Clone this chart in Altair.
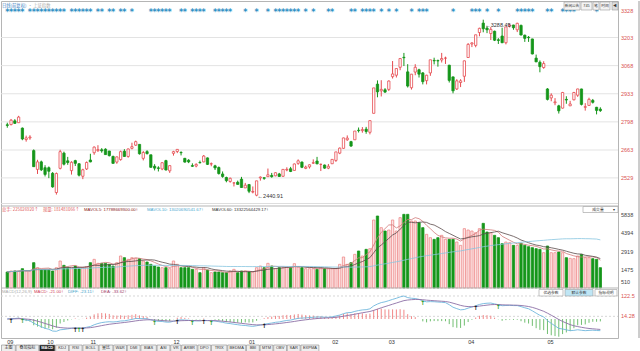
import altair as alt
import pandas as pd
import numpy as np

# ---------------- data ----------------
opens = [2784,2785,2803,2794,2768,2713,2721,2660,2570,2606,2578,2578,2551,2459,2575,2648,2611,2564,2612,2597,2537,2572,
         2615,2650,2660,2664,2667,2658,2632,2605,2617,2657,2632,2671,2686,2690,2623,2655,2640,2585,2577,2572,2612,2563,
         2647,2656,2651,2623,2614,2588,2586,2603,2606,2625,2596,2587,2579,2548,2531,2512,2505,2508,2523,2481,
         2497,2461,2446,2529,2530,2535,2541,2539,2548,2537,2567,2573,2565,2599,2605,2575,2582,2600,2610,2594,2591,2576,
         2597,2613,2648,2671,2712,2703,2712,2758,2756,2763,2748,2839,2979,2947,2952,
         2954,3015,3022,3060,3108,3038,2962,3037,3048,3033,2996,3033,3093,3092,3095,3104,3070,3014,2956,2987,3017,
         3107,3172,3165,3227,3272,3248,3222,3233,3192,3210,3178,3258,3263,3240,3261,3214,3204,3196,3104,3084,3059,
         2956,2913,2890,2875,2864,2906,2875,2904,2926,2956,2868,2877,2901,2868,2859]
highs = [2794,2812,2811,2827,2771,2732,2734,2666,2616,2612,2590,2584,2557,2555,2664,2655,2630,2609,2616,2600,2573,2608,
         2645,2680,2686,2672,2671,2659,2636,2632,2660,2667,2670,2698,2708,2690,2658,2662,2640,2595,2585,2604,2616,2590,
         2659,2667,2657,2625,2619,2599,2599,2612,2639,2627,2603,2592,2584,2560,2535,2531,2507,2516,2534,2505,
         2500,2488,2515,2536,2531,2574,2553,2556,2553,2571,2580,2582,2598,2618,2608,2588,2594,2618,2630,2598,2593,2596,
         2618,2653,2675,2722,2733,2707,2754,2771,2773,2774,2804,2961,2997,2998,2960,
         2997,3090,3055,3103,3129,3075,3028,3075,3053,3037,3024,3096,3106,3097,3129,3111,3072,3015,3003,3003,3092,
         3176,3180,3216,3250,3288.45,3256,3253,3236,3200,3250,3254,3270,3264,3274,3265,3217,3210,3197,3121,3093,3089,
         2960,2935,2912,2880,2942,2921,2899,2942,2957,2957,2888,2914,2908,2870,2868]
lows = [2770,2781,2788,2794,2710,2703,2712,2582,2548,2562,2536,2528,2482,2449,2570,2589,2592,2545,2586,2536,2523,2567,
        2604,2640,2654,2650,2641,2632,2597,2597,2612,2630,2626,2666,2683,2641,2613,2641,2578,2565,2560,2566,2565,2553,
        2636,2648,2637,2603,2600,2582,2580,2598,2604,2591,2585,2567,2545,2530,2508,2506,2488,2497,2482,2481,
        2456,2455,2440.91,2516,2520,2535,2530,2537,2534,2534,2561,2557,2565,2592,2576,2571,2574,2596,2594,2562,2573,2571,
        2597,2606,2643,2669,2707,2678,2712,2747,2746,2741,2738,2839,2916,2920,2937,
        2946,3006,3011,3046,3066,2963,2953,3022,3011,2978,2978,3019,3074,3063,3083,3076,2987,2935,2951,2965,2990,
        3106,3157,3156,3209,3228,3224,3191,3186,3172,3176,3170,3251,3240,3229,3213,3182,3182,3122,3085,3036,3053,
        2901,2897,2878,2838,2862,2885,2874,2901,2918,2877,2852,2876,2886,2834,2846]
closes = [2781,2806,2791,2821,2716,2721,2725,2583,2606,2568,2546,2561,2486,2550,2655,2595,2603,2604,2599,2542,2568,2603,
          2606,2677,2665,2659,2641,2636,2599,2630,2655,2632,2668,2679,2703,2645,2651,2646,2580,2576,2575,2602,2567,2588,
          2655,2666,2650,2605,2606,2585,2594,2602,2634,2594,2597,2577,2550,2536,2516,2527,2505,2498,2483,2494,
          2465,2464,2515,2533,2527,2544,2535,2554,2536,2570,2570,2560,2596,2611,2580,2581,2592,2602,2597,2594,2576,2585,
          2618,2654,2672,2721,2720,2682,2754,2756,2761,2752,2804,2961,2942,2954,2941,
          2994,3028,3054,3102,3106,2970,3027,3060,3027,2991,3022,3096,3091,3091,3102,3104,2997,2947,2995,2995,3091,
          3170,3177,3216,3247,3245,3240,3242,3190,3189,3178,3254,3263,3250,3271,3215,3199,3202,3124,3086,3063,3078,
          2906,2926,2894,2851,2939,2903,2884,2939,2956,2882,2871,2906,2892,2853,2852]
volumes = [1280,1359,1359,1359,1546,1359,1359,2026,1626,1439,1439,1439,1359,1626,2160,1813,1626,1680,1760,1546,1626,1706,
           2026,2293,1973,1973,1973,1893,1760,2026,2560,2426,2293,2426,2373,2346,2160,2080,1893,1760,1680,1626,1626,1546,
           2160,1893,1626,1626,1626,1493,1493,1226,1626,1439,1226,1280,1280,1226,1226,1359,1493,1226,1359,1359,
           1280,1280,1626,1760,1626,1973,1760,1546,1626,1626,1680,1626,1946,1680,1626,1546,1546,1546,1493,1626,1546,1546,
           1546,1546,1893,2480,1893,2026,2693,2960,2560,3093,3146,5440,5760,4827,4560,
           4640,5440,4560,5627,5893,5893,5360,5360,5227,4827,4293,4026,3893,4026,4213,3893,3893,3893,3680,3413,4747,
           4640,4560,4426,4747,5173,4480,4426,4213,4026,3546,3680,3626,3413,3413,3573,3413,3306,3226,3146,3093,2826,
           3360,2826,2826,2880,2826,2426,2373,2346,2560,2693,2426,2426,2346,2293,1626]
star_idx = [0,1,2,3,4,6,7,8,9,10,11,12,13,14,15,17,18,19,20,21,22,24,25,27,28,30,31,33,38,39,40,41,42,43,46,47,
            49,50,51,52,55,56,57,58,59,63,66,69,71,72,73,74,75,76,77,79,81,85,86,91,92,94,95,96,97,99,101,103,107,
            109,110,111,118,123,124,125,127,130,135,136,137,138,139,143,144,147,148,149,150,156]
month_idx = [0, 10.6, 22, 44, 64, 86, 101, 122, 143]
month_lbl = ["09", "10", "11", "12", "01", "02", "03", "04", "05"]
price_ticks = [2529, 2663, 2798, 2933, 3068, 3203, 3328]
vol_ticks = [510, 1475, 2919, 4394, 5838]
macd_ticks = [14.28, 122.5]
tabs = ["主图", "叠加指标", "MACD", "KDJ", "RSI", "BOLL", "量比", "W&R", "DMI", "BIAS", "ASI", "VR", "ARBR",
        "DPO", "TRIX", "BEDMA", "BBI", "MTM", "OBV", "SAR", "EXPMA"]

# ---------------- derived ----------------
n = len(closes)
df = pd.DataFrame({"i": list(range(n)), "open": opens, "high": highs, "low": lows,
                   "close": closes, "vol": volumes})
df["up"] = df["close"] >= df["open"]
ema12 = df["close"].ewm(span=12, adjust=False).mean()
ema26 = df["close"].ewm(span=26, adjust=False).mean()
df["dif"] = ema12 - ema26
df["dea"] = df["dif"].ewm(span=9, adjust=False).mean()
df["macd"] = 2 * (df["dif"] - df["dea"])
df["mpos"] = df["macd"] >= 0

sg = np.sign(df["macd"].values)
cross_i, cross_t, cross_y = [], [], []
for k in range(1, n):
    if sg[k] != sg[k - 1] and sg[k] != 0:
        cross_i.append(k)
        cross_t.append("gold" if sg[k] > 0 else "dead")
        cross_y.append(float(df["dif"].iloc[k]))
cross_df = pd.DataFrame({"i": cross_i, "t": cross_t, "y": cross_y})

RED = "#e64a4f"
GREEN = "#15961a"
FONT = "Noto Sans CJK SC"
NUMF = "Liberation Sans"
W = 617
H = 337
one = pd.DataFrame({"a": [0]})
xs = alt.Scale(domain=[-0.34, 160.35], nice=False, zero=False)
X = alt.X("i:Q", scale=xs, axis=None)

# panel scales: pixel ranges inside one plot area (price 0-205, volume 205-287, MACD 287-337)
pscale = alt.Scale(domain=[2394.2, 3378.2], range=[205, 0], nice=False, zero=False)
vscale = alt.Scale(domain=[0, 6560], range=[287, 205], nice=False, zero=False)
dmax = float(df["dif"].max())
mscale = alt.Scale(domain=[-dmax * 19.0 / 23.0, dmax * 31.0 / 23.0], range=[337, 287], nice=False, zero=False)


def txt(s, x, y, color, size=4.6, align="left", weight="normal", font=FONT):
    return alt.Chart(one).mark_text(text=s, align=align, baseline="middle", fontSize=size,
                                    color=color, font=font, fontWeight=weight).encode(
        x=alt.value(x), y=alt.value(y))


def box(x1, x2, y1, y2, fill="#f4f4f4", stroke="#9a9a9a"):
    return alt.Chart(one).mark_rect(fill=fill, stroke=stroke, strokeWidth=0.6).encode(
        x=alt.value(x1), x2=alt.value(x2), y=alt.value(y1), y2=alt.value(y2))


def hline(y, x1=0, x2=W, color="#b5b5b5"):
    return alt.Chart(one).mark_rule(color=color, strokeWidth=1).encode(
        x=alt.value(x1), x2=alt.value(x2), y=alt.value(y))


def vline(x, y1, y2, color="#9a9a9a"):
    return alt.Chart(one).mark_rule(color=color, strokeWidth=1).encode(
        x=alt.value(x), y=alt.value(y1), y2=alt.value(y2))


def labels(vals, scale, color):
    d = pd.DataFrame({"v": vals, "lab": [f"{v:g}" for v in vals]})
    return alt.Chart(d).mark_text(align="left", baseline="middle", fontSize=5.5, font=NUMF,
                                  color=color).encode(
        x=alt.value(620), y=alt.Y("v:Q", scale=scale, axis=None), text="lab:N")


def grid(vals, scale, dash=None, color="#e3e3e3"):
    d = pd.DataFrame({"v": vals})
    kw = dict(color=color, strokeWidth=1)
    if dash:
        kw["strokeDash"] = dash
    return alt.Chart(d).mark_rule(**kw).encode(
        x=alt.value(0), x2=alt.value(W), y=alt.Y("v:Q", scale=scale, axis=None))


# ---------------- price panel ----------------
base = alt.Chart(df)
wick = base.mark_rule(strokeWidth=1, clip=True).encode(
    x=X, y=alt.Y("low:Q", scale=pscale, axis=None), y2="high:Q",
    color=alt.condition("datum.up", alt.value(RED), alt.value(GREEN)))
body = base.mark_bar(size=2.3, strokeWidth=0.8, clip=True).encode(
    x=X, y=alt.Y("open:Q", scale=pscale, axis=None), y2="close:Q",
    fill=alt.condition("datum.up", alt.value("white"), alt.value(GREEN)),
    stroke=alt.condition("datum.up", alt.value(RED), alt.value(GREEN)))
stars = alt.Chart(pd.DataFrame({"i": star_idx})).mark_text(
    text="*", fontSize=8, fontWeight="bold", color="#2e8fc4", baseline="middle", font="DejaVu Sans").encode(
    x=X, y=alt.value(12))
imax = int(np.argmax(highs))
imin = int(np.argmin(lows))
ext = pd.DataFrame({"i": [imax, imin], "p": [highs[imax], lows[imin]],
                    "lab": ["\u2190" + f"{highs[imax]:.2f}", "\u2190" + f"{lows[imin]:.2f}"]})
ext_max = alt.Chart(ext.iloc[[0]]).mark_text(align="left", baseline="middle", fontSize=5.5, dx=2, dy=5,
                                             color="#333", font=NUMF).encode(
    x=X, y=alt.Y("p:Q", scale=pscale, axis=None), text="lab:N")
ext_min = alt.Chart(ext.iloc[[1]]).mark_text(align="left", baseline="middle", fontSize=5.5, dx=1, dy=0,
                                             color="#333", font=NUMF).encode(
    x=X, y=alt.Y("p:Q", scale=pscale, axis=None), text="lab:N")

top_btns = [box(563, 579, 1, 9), box(580, 591, 1, 9), box(592, 598, 1, 9), box(599, 609, 1, 9),
            box(611, 617, 1, 9, fill="#dddddd"),
            txt("新闻公告", 571, 5, "#333", 3.6, "center"), txt("745", 585.5, 5, "#333", 3.8, "center", font=NUMF),
            txt("笔", 595, 5, "#333", 3.8, "center"), txt("时间", 604, 5, "#333", 3.8, "center"),
            txt("◀", 614, 5, "#333", 3.8, "center")]

price_layers = [grid(price_ticks[:-1], pscale), wick, body, stars, ext_max, ext_min,
                labels(price_ticks, pscale, "#d9534f"),
                txt("日线(前复权)", 1, 4.5, "#3b82c4", 4.3), txt("· 上证指数", 27, 4.5, "#aaaaaa", 4.3),
                *top_btns]

# ---------------- volume panel ----------------
vbase = alt.Chart(df).transform_window(
    ma5="mean(vol)", frame=[-4, 0], sort=[alt.SortField("i")]).transform_window(
    ma10="mean(vol)", frame=[-9, 0], sort=[alt.SortField("i")]).transform_window(
    ma60="mean(vol)", frame=[-59, 0], sort=[alt.SortField("i")])
vbars = alt.Chart(df).mark_bar(size=2.3, strokeWidth=0.8, clip=True).encode(
    x=X, y=alt.Y("vol:Q", scale=vscale, axis=None), y2=alt.datum(0),
    fill=alt.condition("datum.up", alt.value("#fde4e4"), alt.value(GREEN)),
    stroke=alt.condition("datum.up", alt.value("#ee8a8a"), alt.value(GREEN)))
ma5 = vbase.mark_line(color="#d07878", strokeWidth=0.8, clip=True).encode(
    x=X, y=alt.Y("ma5:Q", scale=vscale, axis=None))
ma10 = vbase.mark_line(color="#5a4a4a", strokeWidth=0.8, clip=True).encode(
    x=X, y=alt.Y("ma10:Q", scale=vscale, axis=None))
ma60 = vbase.mark_line(color="#86c5e0", strokeWidth=0.8, clip=True).encode(
    x=X, y=alt.Y("ma60:Q", scale=vscale, axis=None))
vol_layers = [vbars, ma5, ma10, ma60, labels(vol_ticks, vscale, "#444444"),
              txt("总手: 225026920↑", 1, 209.3, "#e05a5a", 4.3),
              txt("现量: 181481066↑", 42, 209.3, "#e05a5a", 4.3),
              txt("MAVOL5: 17788669300.00↑", 83, 209.3, "#8b1a1a", 4.3, font=NUMF),
              txt("MAVOL10: 13020690541.67↑", 146, 209.3, "#4aa8d0", 4.3, font=NUMF),
              txt("MAVOL60: 13322564429.17↑", 211, 209.3, "#333333", 4.3, font=NUMF),
              box(582, 617, 205.5, 211.5, fill="white"),
              txt("成交量", 597, 208.5, "#333", 3.8, "center"), txt("▾", 613, 208.5, "#333", 4, "center")]

# ---------------- MACD panel ----------------
hist = alt.Chart(df).mark_rule(strokeWidth=0.9, clip=True).encode(
    x=X, y=alt.Y("macd:Q", scale=mscale, axis=None), y2=alt.datum(0),
    color=alt.condition("datum.mpos", alt.value("#ef7c7c"), alt.value("#62b862")))
dif_line = alt.Chart(df).mark_line(color="#6fb7dc", strokeWidth=0.9, clip=True).encode(
    x=X, y=alt.Y("dif:Q", scale=mscale, axis=None))
dea_line = alt.Chart(df).mark_line(color="#8c6fa6", strokeWidth=0.9, clip=True).encode(
    x=X, y=alt.Y("dea:Q", scale=mscale, axis=None))
arrows = alt.Chart(cross_df).mark_text(text="↑", fontSize=6, fontWeight="bold", baseline="middle",
                                       font="DejaVu Sans", dy=2).encode(
    x=X, y=alt.Y("y:Q", scale=mscale, axis=None),
    color=alt.condition("datum.t == 'gold'", alt.value("#111111"), alt.value("#1f9a1f")))
months = alt.Chart(pd.DataFrame({"i": month_idx, "lab": month_lbl})).mark_text(
    align="left", baseline="middle", fontSize=5.5, font=NUMF, color="#333").encode(
    x=X, y=alt.value(340.5), text="lab:N")

tab_layers = []
xpos = 0.5
for t in tabs:
    w = sum(4.4 if ord(c) > 255 else 2.6 for c in t) + 5
    sel = (t == "MACD")
    tab_layers.append(box(xpos, xpos + w, 344, 350.5, fill="#222222" if sel else "#eeeeee",
                          stroke="#888888"))
    tab_layers.append(txt(t, xpos + w / 2, 347.3, "white" if sel else "#333333", 4.0, "center",
                          "bold" if sel else "normal", font=FONT if ord(t[0]) > 255 else NUMF))
    xpos += w + 0.8

macd_layers = [grid(macd_ticks, mscale, dash=[2, 2], color="#d6d6d6"), hist, dif_line, dea_line, arrows,
               labels(macd_ticks, mscale, "#d9534f"), months,
               txt("MACD(12,26,9)", 1, 290.5, "#aaaaaa", 4.3, font=NUMF),
               txt("MACD: -21.00↑", 33, 290.5, "#d0405a", 4.3, font=NUMF),
               txt("DIFF: -23.11↑", 67, 290.5, "#3aa0c8", 4.3, font=NUMF),
               txt("DEA: -33.62↑", 100, 290.5, "#a0406a", 4.3, font=NUMF),
               box(538, 562, 288.5, 295, fill="white"), box(564, 592, 288.5, 295, fill="#bfe6f5"),
               box(594, 616, 288.5, 295, fill="white"),
               txt("优选参数", 550, 291.8, "#333", 3.8, "center"),
               txt("默认参数", 578, 291.8, "#333", 3.8, "center"),
               txt("指标说明", 605, 291.8, "#333", 3.8, "center"),
               *tab_layers]

frame_layers = [hline(205), hline(202.5, color="#dddddd"), hline(287), vline(638, 0, 337)]

chart = alt.layer(*price_layers, *vol_layers, *macd_layers, *frame_layers).resolve_scale(
    y="independent").properties(
    width=W, height=H, padding={"left": 0, "top": 0, "right": 0, "bottom": 0}
).configure_view(stroke="#b5b5b5", strokeWidth=1)

chart.save("out.html", embed_options={"renderer": "svg", "actions": False})
